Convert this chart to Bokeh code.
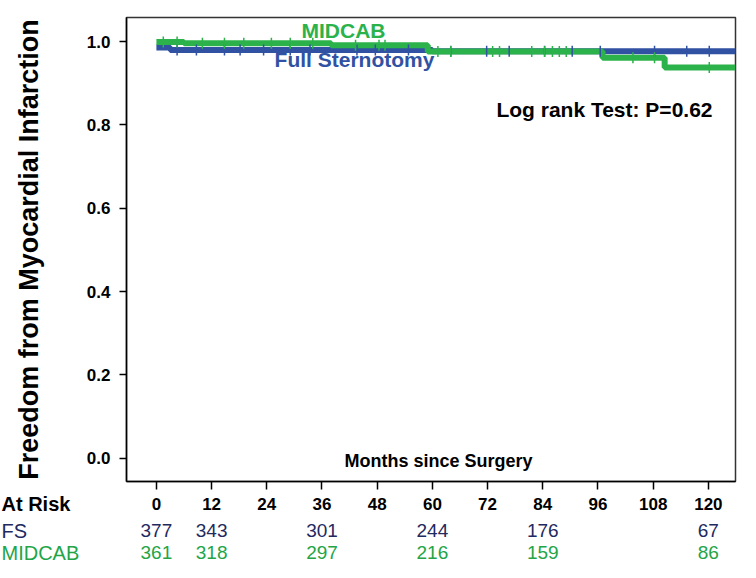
import numpy as np
from bokeh.plotting import figure
from bokeh.models import Label, FixedTicker, Range1d
from bokeh.layouts import column
from bokeh.core.properties import value
from bokeh.embed import file_html
from bokeh.resources import INLINE

# ---- data ----
months_ticks = [0, 12, 24, 36, 48, 60, 72, 84, 96, 108, 120]
y_ticks = [0.0, 0.2, 0.4, 0.6, 0.8, 1.0]

fs_time = [0, 3, 60, 125.9]
fs_surv = [0.986, 0.980, 0.977, 0.977]
midcab_time = [0, 6, 38, 59, 97, 110.5, 125.9]
midcab_surv = [0.999, 0.996, 0.991, 0.976, 0.961, 0.938, 0.938]

fs_censor = [4.5, 8.7, 14.8, 18.2, 23.3, 29.1, 33.4, 43.6, 47.6, 54.8, 64, 71.8,
             76.7, 84.4, 90.4, 96.5, 108.3, 115.3, 120.2]
midcab_censor = [1.5, 4.5, 10, 14.8, 19, 25, 29.1, 34, 43.3, 48.4, 49.7, 61.2, 64,
                 73.1, 74.6, 81.6, 84.4, 86.1, 87.6, 89.1, 103.6, 108.3, 120.2]

risk_months = [0, 12, 36, 60, 84, 120]
fs_at_risk = [377, 343, 301, 244, 176, 67]
midcab_at_risk = [361, 318, 297, 216, 159, 86]
row_names = ["At Risk", "FS", "MIDCAB"]

BLUE = "#3152a3"
GREEN = "#2cb24b"
NAVY = "#1e2a60"
TGREEN = "#23a547"
FONT = "'Liberation Sans', Arial, sans-serif"

# ---- layout constants (canvas pixels) ----
W = 740
H1, H2 = 492, 70
BL, BR, BT, BB = 126, 5, 17, 11
FW, FH = W - BL - BR, H1 - BT - BB
X0, X1 = -6.5, 125.9
Y0, Y1 = -0.0557, 1.0577
PPU = FW / (X1 - X0)


def dx(cx):
    return X0 + (cx - BL) / PPU


def dy(cy):
    return Y1 - (cy - BT) * (Y1 - Y0) / FH


p = figure(width=W, height=H1, output_backend="svg", toolbar_location=None,
           x_range=Range1d(X0, X1), y_range=Range1d(Y0, Y1),
           min_border_left=BL, min_border_right=BR, min_border_top=BT,
           min_border_bottom=BB)
p.grid.visible = False
p.outline_line_color = "#333333"
p.outline_line_width = 1.5

p.xaxis.ticker = FixedTicker(ticks=months_ticks)
p.xaxis.major_label_overrides = {t: "" for t in months_ticks}
p.xaxis.major_label_text_font_size = "1px"
p.xaxis.major_label_standoff = 0
p.yaxis.ticker = FixedTicker(ticks=y_ticks)
p.yaxis.major_label_overrides = {t: f"{t:.1f}" for t in y_ticks}
for ax in (p.xaxis, p.yaxis):
    ax.axis_line_color = "black"
    ax.axis_line_width = 1.5
    ax.major_tick_line_color = "black"
    ax.major_tick_line_width = 1.5
    ax.major_tick_in = 0
    ax.major_tick_out = 8
    ax.minor_tick_line_color = None
p.yaxis.major_tick_out = 7
p.yaxis.major_label_text_color = "black"
p.yaxis.major_label_text_font_style = "bold"
p.yaxis.major_label_text_font = FONT
p.yaxis.major_label_text_font_size = "17px"
p.yaxis.major_label_standoff = 9
p.yaxis.axis_label = "Freedom from Myocardial Infarction"
p.yaxis.axis_label_text_font = FONT
p.yaxis.axis_label_text_font_size = "27px"
p.yaxis.axis_label_text_font_style = "bold"
p.yaxis.axis_label_text_color = "black"
p.yaxis.axis_label_standoff = 40

# curves
p.step(fs_time, fs_surv, mode="after", line_width=6, line_color=BLUE)
p.step(midcab_time, midcab_surv, mode="after", line_width=6, line_color=GREEN)


def level(times, surv, t):
    idx = np.searchsorted(np.array(times), np.array(t), side="right") - 1
    return list(np.array(surv)[idx])


p.scatter(fs_censor, level(fs_time, fs_surv, fs_censor), marker="dash",
          angle=np.pi / 2, size=11, line_width=1.5, line_color=BLUE)
p.scatter(midcab_censor, level(midcab_time, midcab_surv, midcab_censor), marker="dash",
          angle=np.pi / 2, size=11, line_width=1.5, line_color=GREEN)


def lab(text, cx, cy, size, color="black", align="center"):
    p.add_layout(Label(x=dx(cx), y=dy(cy), text=text, text_font=FONT,
                       text_font_size=size, text_font_style="bold", text_color=color,
                       text_align=align, text_baseline="middle"))


lab("MIDCAB", 343, 30, "21px", GREEN)
lab("Full Sternotomy", 354, 59, "21px", BLUE)
lab("Log rank Test: P=0.62", 712, 109, "21px", "black", align="right")
lab("Months since Surgery", 438, 460, "18px")

# ---- at-risk table (second figure sharing the month scale) ----
XB0 = X0 - BL / PPU
XB1 = X0 + (W - BL) / PPU
t = figure(width=W, height=H2, output_backend="svg", toolbar_location=None,
           x_range=Range1d(XB0, XB1), y_range=Range1d(H2, 0),
           x_axis_type=None, y_axis_type=None,
           min_border_left=0, min_border_right=0, min_border_top=0, min_border_bottom=0)
t.grid.visible = False
t.outline_line_color = None
for fig in (p, t):
    if "frame_align" in fig.properties():
        fig.frame_align = False

ROW_Y = [11, 38, 60]
x_left = XB0 + 1 / PPU

t.text(x=months_ticks, y=[ROW_Y[0]] * len(months_ticks),
       text=[str(m) for m in months_ticks], text_font=value(FONT),
       text_font_size=value("17px"), text_font_style="bold", text_color="black",
       text_align="center", text_baseline="middle")
t.text(x=[x_left], y=[ROW_Y[0]], text=[row_names[0]], text_font=value(FONT),
       text_font_size=value("20px"), text_font_style="bold", text_color="black",
       text_align="left", text_baseline="middle")
t.text(x=[x_left], y=[ROW_Y[1]], text=[row_names[1]], text_font=value(FONT),
       text_font_size=value("20px"), text_color=NAVY,
       text_align="left", text_baseline="middle")
t.text(x=[x_left], y=[ROW_Y[2]], text=[row_names[2]], text_font=value(FONT),
       text_font_size=value("20px"), text_color=TGREEN,
       text_align="left", text_baseline="middle")
t.text(x=risk_months, y=[ROW_Y[1]] * len(risk_months),
       text=[str(v) for v in fs_at_risk], text_font=value(FONT),
       text_font_size=value("19px"), text_color=NAVY,
       text_align="center", text_baseline="middle")
t.text(x=risk_months, y=[ROW_Y[2]] * len(risk_months),
       text=[str(v) for v in midcab_at_risk], text_font=value(FONT),
       text_font_size=value("19px"), text_color=TGREEN,
       text_align="center", text_baseline="middle")

layout = column(p, t)
open("out.html", "w").write(file_html(layout, INLINE))
